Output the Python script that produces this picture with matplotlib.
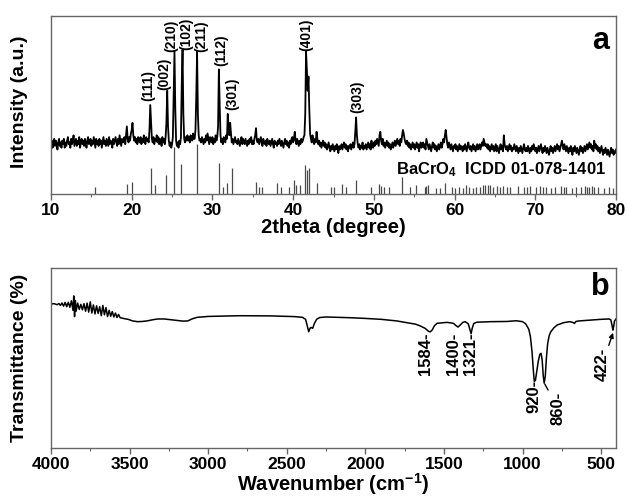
import numpy as np
import matplotlib
matplotlib.use("Agg")
import matplotlib.pyplot as plt
from matplotlib.ticker import MultipleLocator

plt.rcParams['font.family'] = ['Liberation Sans', 'DejaVu Sans']
plt.rcParams['font.weight'] = 'bold'
plt.rcParams['axes.labelweight'] = 'bold'
plt.rcParams['mathtext.fontset'] = 'custom'
plt.rcParams['mathtext.rm'] = 'Liberation Sans:bold'
plt.rcParams['mathtext.bf'] = 'Liberation Sans:bold'
plt.rcParams['mathtext.default'] = 'bf'

# ---------------- XRD pattern (0.1 deg step, 10.0 - 80.0) ----------------
two_theta_start = 10.0
two_theta_step = 0.1
xrd_rows = [
    [27, 30, 26, 29, 31, 27, 30, 28, 25, 29],  # 10
    [31, 27, 29, 26, 30, 28, 31, 26, 29, 27],  # 11
    [30, 32, 28, 29, 26, 31, 28, 30, 33, 27],  # 12
    [29, 31, 27, 30, 28, 32, 26, 29, 31, 28],  # 13
    [30, 27, 31, 29, 26, 30, 32, 28, 29, 31],  # 14
    [27, 30, 28, 32, 29, 26, 31, 28, 30, 27],  # 15
    [31, 28, 30, 26, 29, 32, 28, 30, 27, 31],  # 16
    [29, 27, 32, 28, 30, 29, 26, 31, 28, 30],  # 17
    [32, 29, 27, 31, 28, 33, 30, 27, 31, 29],  # 18
    [30, 32, 28, 33, 38, 31, 29, 32, 30, 34],  # 19
    [36, 40, 33, 30, 32, 29, 31, 28, 32, 30],  # 20
    [29, 32, 28, 31, 29, 33, 30, 28, 32, 30],  # 21
    [31, 29, 36, 50, 40, 31, 29, 32, 28, 31],  # 22
    [30, 33, 29, 32, 28, 31, 30, 27, 32, 29],  # 23
    [31, 28, 32, 40, 58, 38, 30, 27, 29, 26],  # 24
    [28, 32, 55, 80, 48, 30, 27, 29, 26, 30],  # 25
    [28, 32, 62, 81, 45, 31, 29, 32, 30, 33],  # 26
    [30, 32, 29, 33, 31, 30, 34, 31, 31, 36],  # 27
    [55, 80, 45, 33, 30, 31, 29, 32, 30, 28],  # 28
    [31, 29, 33, 30, 34, 31, 28, 32, 30, 29],  # 29
    [32, 28, 31, 29, 33, 30, 32, 38, 70, 50],  # 30
    [33, 29, 31, 28, 32, 30, 29, 33, 31, 45],  # 31
    [38, 33, 40, 34, 29, 31, 28, 30, 32, 29],  # 32
    [30, 28, 31, 29, 27, 30, 32, 28, 31, 29],  # 33
    [28, 31, 29, 27, 30, 28, 31, 29, 32, 28],  # 34
    [30, 28, 31, 33, 37, 30, 29, 31, 28, 30],  # 35
    [32, 29, 27, 31, 29, 28, 30, 27, 31, 29],  # 36
    [28, 30, 27, 29, 31, 28, 26, 30, 28, 29],  # 37
    [27, 30, 28, 31, 29, 27, 30, 28, 26, 29],  # 38
    [31, 28, 30, 27, 29, 26, 30, 28, 31, 32],  # 39
    [29, 31, 35, 30, 28, 31, 29, 27, 30, 28],  # 40
    [31, 29, 30, 32, 33, 45, 80, 70, 58, 66],  # 41
    [48, 34, 31, 29, 33, 30, 28, 31, 29, 35],  # 42
    [31, 28, 30, 27, 29, 26, 28, 30, 27, 29],  # 43
    [26, 28, 25, 27, 29, 26, 24, 27, 25, 28],  # 44
    [26, 24, 27, 25, 28, 26, 23, 27, 25, 26],  # 45
    [28, 25, 27, 29, 26, 28, 25, 27, 24, 27],  # 46
    [26, 28, 25, 27, 29, 26, 28, 35, 43, 33],  # 47
    [28, 26, 28, 25, 27, 26, 29, 25, 27, 26],  # 48
    [28, 25, 27, 29, 26, 28, 25, 30, 27, 26],  # 49
    [29, 27, 30, 28, 31, 29, 27, 33, 35, 30],  # 50
    [28, 31, 27, 29, 26, 28, 30, 27, 29, 26],  # 51
    [28, 25, 27, 29, 26, 28, 30, 27, 29, 31],  # 52
    [28, 30, 27, 31, 29, 33, 36, 34, 31, 29],  # 53
    [28, 30, 27, 29, 26, 28, 25, 27, 29, 26],  # 54
    [28, 25, 27, 29, 26, 28, 24, 27, 29, 26],  # 55
    [27, 29, 26, 28, 25, 31, 29, 27, 25, 28],  # 56
    [26, 24, 27, 29, 26, 28, 25, 27, 24, 26],  # 57
    [28, 25, 27, 29, 26, 28, 31, 29, 33, 36],  # 58
    [32, 28, 26, 29, 27, 25, 28, 26, 24, 27],  # 59
    [26, 28, 25, 27, 24, 26, 28, 25, 27, 26],  # 60
    [24, 27, 25, 28, 26, 24, 27, 29, 26, 25],  # 61
    [27, 24, 26, 28, 25, 27, 24, 26, 28, 25],  # 62
    [26, 28, 25, 27, 29, 27, 31, 29, 27, 28],  # 63
    [26, 28, 25, 27, 24, 26, 28, 25, 27, 24],  # 64
    [26, 28, 24, 27, 25, 23, 26, 28, 25, 27],  # 65
    [24, 33, 28, 26, 25, 27, 24, 26, 28, 25],  # 66
    [27, 24, 26, 25, 28, 26, 24, 27, 25, 23],  # 67
    [26, 24, 27, 25, 23, 26, 28, 25, 24, 26],  # 68
    [24, 27, 25, 23, 26, 24, 27, 25, 28, 26],  # 69
    [24, 26, 23, 25, 27, 24, 26, 28, 25, 23],  # 70
    [26, 24, 27, 25, 23, 26, 24, 22, 25, 27],  # 71
    [24, 26, 23, 25, 27, 24, 26, 28, 25, 27],  # 72
    [24, 26, 28, 30, 27, 25, 28, 26, 24, 27],  # 73
    [25, 23, 26, 24, 27, 25, 22, 26, 24, 27],  # 74
    [25, 23, 26, 24, 22, 25, 27, 24, 26, 23],  # 75
    [25, 27, 24, 26, 28, 25, 27, 29, 26, 28],  # 76
    [25, 27, 24, 30, 26, 28, 25, 27, 24, 26],  # 77
    [23, 25, 27, 24, 22, 25, 23, 26, 24, 22],  # 78
    [25, 23, 21, 24, 26, 23, 25, 22, 24, 23],  # 79
    [25],                                      # 80
]

# Reflection labels: (hkl, label x, label bottom)
hkl_labels = ['(111)', '(002)', '(210)', '(102)', '(211)', '(112)', '(301)', '(401)', '(303)']
hkl_x = [22.0, 24.05, 24.95, 26.8, 28.65, 31.15, 32.45, 41.6, 47.9]
hkl_y = [52.0, 58.5, 80.0, 81.0, 80.0, 72.0, 47.0, 80.5, 45.5]

# Reference stick pattern BaCrO4, ICDD 01-078-1401
ref_pos = [15.45, 19.4, 20.0, 22.35, 22.9, 24.2, 25.28, 26.15, 28.05, 30.8,
           31.3, 31.85, 32.4, 35.4, 35.8, 36.1, 38.05, 38.46, 39.5, 40.07,
           40.36, 40.86, 41.5, 41.76, 42.0, 42.9, 44.7, 45.1, 46.0, 46.6,
           47.8, 49.6, 50.6, 50.9, 51.3, 51.9, 53.5, 54.5, 55.2, 56.3,
           56.5, 56.7, 57.7, 58.2, 58.8, 59.7, 60.1, 60.6, 61.0, 61.4,
           61.8, 62.3, 62.7, 63.2, 63.5, 63.8, 64.1, 64.4, 64.8, 65.2,
           65.6, 66.0, 66.5, 66.9, 67.8, 68.6, 69.0, 69.4, 70.1, 70.6,
           70.9, 71.3, 72.0, 72.5, 73.2, 73.6, 73.8, 74.5, 75.1, 75.7,
           76.1, 76.4, 76.7, 77.0, 77.3, 77.8, 78.5, 79.1, 79.6]
ref_int = [3.7, 5.6, 6.9, 14.4, 5.1, 10.7, 26.2, 16.7, 28.0, 17.6,
           4.1, 6.3, 14.8, 6.9, 4.1, 4.1, 6.3, 4.1, 4.1, 7.9,
           4.9, 4.9, 16.3, 13.5, 14.4, 6.3, 4.1, 4.1, 5.4, 4.1,
           7.9, 4.0, 5.5, 4.5, 4.0, 4.0, 9.7, 4.0, 5.0, 4.0,
           4.5, 5.0, 3.5, 3.5, 6.0, 4.0, 3.5, 4.0, 3.5, 5.0,
           4.0, 3.5, 4.0, 4.0, 5.0, 5.0, 5.0, 5.0, 4.0, 4.5,
           4.0, 4.5, 4.0, 4.0, 4.5, 4.0, 4.0, 4.5, 4.0, 4.5,
           4.0, 4.0, 3.5, 4.0, 4.5, 4.0, 4.0, 3.5, 4.0, 4.0,
           4.5, 4.0, 4.0, 4.5, 4.0, 4.0, 3.5, 4.0, 3.5]

# ---------------- FTIR spectrum ----------------
ir_wn = [4000, 3980, 3960, 3950, 3940, 3930, 3920, 3910, 3900, 3890,
         3880, 3870, 3860, 3855, 3850, 3845, 3840, 3830, 3820, 3810,
         3800, 3790, 3780, 3770, 3760, 3750, 3740, 3730, 3720, 3710,
         3700, 3690, 3680, 3670, 3660, 3650, 3640, 3630, 3620, 3610,
         3600, 3590, 3580, 3570, 3560, 3540, 3510, 3480, 3450, 3420,
         3390, 3350, 3320, 3280, 3240, 3200, 3160, 3130, 3100, 3070,
         3000, 2900, 2800, 2600, 2450, 2400, 2380, 2370, 2360, 2352,
         2345, 2335, 2325, 2310, 2290, 2250, 2100, 2000, 1900, 1800,
         1734, 1680, 1650, 1620, 1600, 1588, 1575, 1560, 1543, 1500,
         1480, 1440, 1420, 1410, 1398, 1380, 1365, 1345, 1335, 1327,
         1320, 1310, 1290, 1200, 1100, 1040, 1000, 980, 960, 950,
         940, 930, 925, 918, 910, 900, 890, 882, 875, 868,
         862, 855, 848, 840, 830, 820, 800, 780, 740, 700,
         680, 670, 660, 640, 580, 500, 450, 438, 430, 425,
         420, 415, 405]
ir_t = [80.0, 80.2, 79.6, 80.3, 79.2, 80.6, 78.8, 80.9, 78.5, 81.0,
        78.2, 81.8, 76.5, 84.5, 73.0, 82.0, 76.0, 80.5, 77.0, 79.8,
        76.8, 80.2, 76.0, 80.5, 75.5, 81.2, 75.0, 79.5, 74.5, 79.0,
        74.8, 78.5, 73.5, 79.2, 74.0, 78.0, 73.0, 76.5, 73.2, 75.8,
        72.8, 75.0, 72.5, 74.2, 72.4, 72.0, 71.5, 70.6, 70.2, 70.3,
        70.6, 71.3, 71.7, 71.7, 71.3, 70.9, 70.5, 70.6, 71.8, 72.6,
        73.1, 73.3, 73.5, 73.4, 73.0, 72.6, 71.5, 68.0, 64.6, 66.5,
        67.0, 66.5, 69.0, 71.5, 72.5, 72.8, 72.4, 72.0, 71.5, 70.6,
        69.6, 68.8, 67.8, 66.5, 65.0, 64.5, 65.5, 68.0, 69.3, 69.6,
        69.8, 69.3, 67.8, 67.2, 68.2, 69.8, 70.2, 69.0, 66.0, 63.5,
        66.5, 69.2, 69.9, 70.2, 70.3, 70.7, 70.2, 69.0, 66.0, 62.0,
        54.0, 42.0, 37.0, 37.5, 42.0, 48.0, 52.0, 52.6, 49.0, 40.0,
        36.0, 40.0, 50.0, 58.0, 62.5, 64.6, 66.8, 68.3, 69.6, 70.2,
        69.8, 69.2, 70.3, 70.6, 71.0, 71.5, 71.7, 71.2, 68.0, 65.5,
        67.5, 70.5, 71.7]

# Band labels: text, label x, label top
band_labels = ['1584-', '1400-', '1321-', '920-']
band_x = [1618, 1440, 1332, 925]
band_y = [64.4, 64.0, 64.4, 37.8]

# ------------------------------------------------------------------
xrd_int = np.array([v for row in xrd_rows for v in row], dtype=float)
xrd_2t = two_theta_start + two_theta_step * np.arange(len(xrd_int))

fig = plt.figure(figsize=(6.27, 4.98), dpi=100)
ax1 = fig.add_axes([0.0813, 0.6104, 0.9012, 0.3574])
ax2 = fig.add_axes([0.0813, 0.1004, 0.9012, 0.3614])

spine_col = '#666666'
for ax in (ax1, ax2):
    for s in ax.spines.values():
        s.set_color(spine_col)
        s.set_linewidth(1.0)
    ax.set_yticks([])
    ax.tick_params(axis='x', which='major', direction='out', length=4, width=1,
                   color=spine_col, labelsize=12.5, pad=2.5)
    ax.tick_params(axis='x', which='minor', direction='out', length=2.5, width=0.8,
                   color=spine_col)

# XRD panel
ax1.plot(xrd_2t, xrd_int, color='black', lw=1.3)
ax1.vlines(ref_pos, 0, ref_int, colors='#4a4a4a', lw=0.9)
ax1.set_xlim(10, 80)
ax1.set_ylim(0, 100)
ax1.xaxis.set_major_locator(MultipleLocator(10))
ax1.xaxis.set_minor_locator(MultipleLocator(5))
ax1.set_xlabel('2theta (degree)', fontsize=14.5, labelpad=0)
ax1.set_ylabel('Intensity (a.u.)', fontsize=14)
ax1.yaxis.set_label_coords(-0.041, 0.52)
for lab, x, y in zip(hkl_labels, hkl_x, hkl_y):
    ax1.text(x, y, lab, rotation=90, ha='center', va='bottom', fontsize=10)
ax1.text(0.972, 0.86, 'a', transform=ax1.transAxes, ha='center', va='center',
         fontsize=22)
ax1.text(0.982, 0.135, r'BaCrO$_{4}$  ICDD 01-078-1401', transform=ax1.transAxes,
         ha='right', va='center', fontsize=12)

# FTIR panel
ax2.plot(ir_wn, ir_t, color='black', lw=1.1)
ax2.set_xlim(4000, 405)
ax2.set_ylim(0, 100)
ax2.xaxis.set_major_locator(MultipleLocator(500))
ax2.xaxis.set_minor_locator(MultipleLocator(250))
ax2.set_xlabel(r'Wavenumber (cm$^{\mathbf{-1}}$)', fontsize=14.5, labelpad=-1)
ax2.set_ylabel('Transmittance (%)', fontsize=14)
ax2.yaxis.set_label_coords(-0.041, 0.5)
for lab, x, y in zip(band_labels, band_x, band_y):
    ax2.text(x, y, lab, rotation=90, ha='center', va='top', fontsize=12)

ax2.annotate('860-', xy=(858, 35.5), xytext=(772, 31.0), rotation=90,
             ha='center', va='top', fontsize=12,
             arrowprops=dict(arrowstyle='-', color='black', lw=1.0,
                             shrinkA=0, shrinkB=0))
ax2.annotate('422-', xy=(424, 64.0), xytext=(493, 55.5), rotation=90,
             ha='center', va='top', fontsize=12,
             arrowprops=dict(arrowstyle='-|>', color='black', lw=1.0,
                             mutation_scale=7, shrinkA=0, shrinkB=0))
ax2.text(0.972, 0.894, 'b', transform=ax2.transAxes, ha='center', va='center',
         fontsize=22)

fig.savefig('out.png', dpi=100)
